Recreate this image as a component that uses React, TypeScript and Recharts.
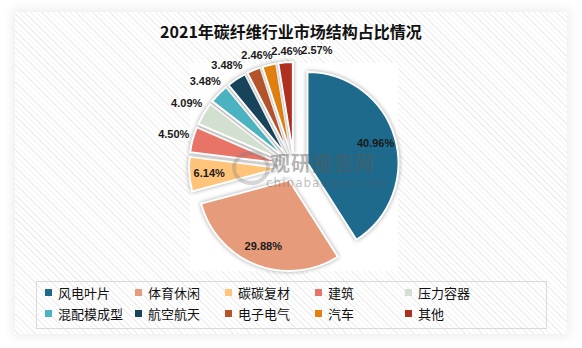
import { PieChart, Pie, Cell } from "recharts"

const CATEGORIES = ["风电叶片", "体育休闲", "碳碳复材", "建筑", "压力容器", "混配模成型", "航空航天", "电子电气", "汽车", "其他"]
const SHARES = [40.96, 29.88, 6.14, 4.5, 4.09, 3.48, 3.48, 2.46, 2.46, 2.57]
const COLORS = ["#1d6a8d", "#e69b7b", "#ffc47a", "#e87467", "#d2e0cf", "#4bb2c0", "#17435b", "#b5532a", "#e1800f", "#b0301f"]

const CX = 294
const CY = 167
const RADIUS = 91
const EXPLODE = 14
const RAD = Math.PI / 180
const LABEL_W = 27
const LABEL_H = 12
const LABEL_GAP = 30

const total = SHARES.reduce((a, b) => a + b, 0)

// each slice is its own Pie so it can be pulled out along its mid angle
let acc = 0
const slices = SHARES.map((value, i) => {
  const startAngle = 90 - (acc / total) * 360
  acc += value
  const endAngle = 90 - (acc / total) * 360
  const mid = (startAngle + endAngle) / 2
  return {
    name: CATEGORIES[i],
    value,
    color: COLORS[i],
    startAngle,
    endAngle,
    mid,
    cx: CX + EXPLODE * Math.cos(mid * RAD),
    cy: CY - EXPLODE * Math.sin(mid * RAD),
  }
})

const labelPos: { x: number; y: number }[] = []
slices.forEach((s, i) => {
  const c = Math.cos(s.mid * RAD)
  const sn = Math.sin(s.mid * RAD)
  const inside = s.value > 5
  const r = inside ? RADIUS * 0.78 : RADIUS + 5 + (LABEL_W / 2) * Math.abs(c) + (LABEL_H / 2) * Math.abs(sn)
  let x = s.cx + r * c
  const y = s.cy - r * sn
  const prev = labelPos[i - 1]
  // push crowded top labels to the right, like excel does
  if (prev && !inside && SHARES[i - 1] <= 5 && Math.abs(prev.y - y) < LABEL_H && x - prev.x < LABEL_GAP) {
    x = prev.x + LABEL_GAP
  }
  labelPos.push({ x, y })
})

const renderLabel = (i: number) => () => (
  <text
    x={labelPos[i].x}
    y={labelPos[i].y}
    textAnchor="middle"
    dominantBaseline="central"
    fontSize={11}
    fontWeight="bold"
    fontFamily="'Liberation Sans', Arial, sans-serif"
    fill="#1a1a1a"
  >
    {`${slices[i].value.toFixed(2)}%`}
  </text>
)

const hatch =
  "repeating-linear-gradient(45deg, #ffffff 0px, #ffffff 2px, #efefef 2px, #efefef 3px, #ffffff 3px, #ffffff 4px)"

export default function App() {
  return (
    <div
      style={{
        position: "absolute",
        left: 0,
        top: 0,
        width: 582,
        height: 348,
        background: "#ffffff",
        overflow: "hidden",
        fontFamily: "'Noto Sans CJK SC', sans-serif",
      }}
    >
      <div
        style={{
          position: "absolute",
          left: 15,
          top: 12,
          width: 552,
          height: 322,
          background: hatch,
          boxShadow: "0 0 10px 3px rgba(0,0,0,0.07)",
        }}
      />
      <div style={{ position: "absolute", left: 190, top: 63, width: 208, height: 208, background: "#ffffff" }} />
      <div
        style={{
          position: "absolute",
          left: 0,
          top: 20,
          width: 582,
          textAlign: "center",
          fontSize: 16,
          fontWeight: "bold",
          color: "#111",
          lineHeight: "22px",
        }}
      >
        2021年碳纤维行业市场结构占比情况
      </div>
      <PieChart width={582} height={348} margin={{ top: 0, right: 0, bottom: 0, left: 0 }} style={{ position: "absolute", left: 0, top: 0 }}>
        {slices.map((s, i) => (
          <Pie
            key={s.name}
            data={[s]}
            dataKey="value"
            nameKey="name"
            cx={s.cx}
            cy={s.cy}
            innerRadius={0}
            outerRadius={RADIUS}
            startAngle={s.startAngle}
            endAngle={s.endAngle}
            label={renderLabel(i)}
            labelLine={false}
            isAnimationActive={false}
          >
            <Cell fill={s.color} stroke="#ffffff" strokeWidth={2} style={{ filter: "drop-shadow(0 0 2px rgba(0,0,0,0.35))" }} />
          </Pie>
        ))}
      </PieChart>
      <div
        style={{
          position: "absolute",
          left: 232,
          top: 151,
          width: 30,
          height: 26,
          borderRadius: "50%",
          border: "4px solid rgba(120,120,120,0.3)",
          pointerEvents: "none",
        }}
      />
      <div
        style={{
          position: "absolute",
          left: 270,
          top: 154,
          fontSize: 20,
          lineHeight: "17px",
          fontWeight: "bold",
          color: "rgba(90,90,90,0.45)",
          letterSpacing: 1,
          pointerEvents: "none",
        }}
      >
        观研报告网
      </div>
      <div
        style={{
          position: "absolute",
          left: 266,
          top: 177,
          fontSize: 12,
          lineHeight: "12px",
          fontFamily: "'DejaVu Sans', sans-serif",
          color: "rgba(90,90,90,0.4)",
          letterSpacing: 1,
          pointerEvents: "none",
        }}
      >
        chinabaogao.com
      </div>
      <div
        style={{
          position: "absolute",
          left: 36,
          top: 281,
          width: 509,
          height: 46,
          border: "1px solid #d9d9d9",
        }}
      >
        {CATEGORIES.map((name, i) => (
          <div
            key={name}
            style={{
              position: "absolute",
              left: 8 + (i % 5) * 90,
              top: 0 + Math.floor(i / 5) * 21,
              height: 20,
              display: "flex",
              alignItems: "center",
              fontSize: 13,
              color: "#111",
              whiteSpace: "nowrap",
            }}
          >
            <span style={{ display: "inline-block", width: 7, height: 7, background: COLORS[i], marginRight: 6 }} />
            {name}
          </div>
        ))}
      </div>
    </div>
  )
}
